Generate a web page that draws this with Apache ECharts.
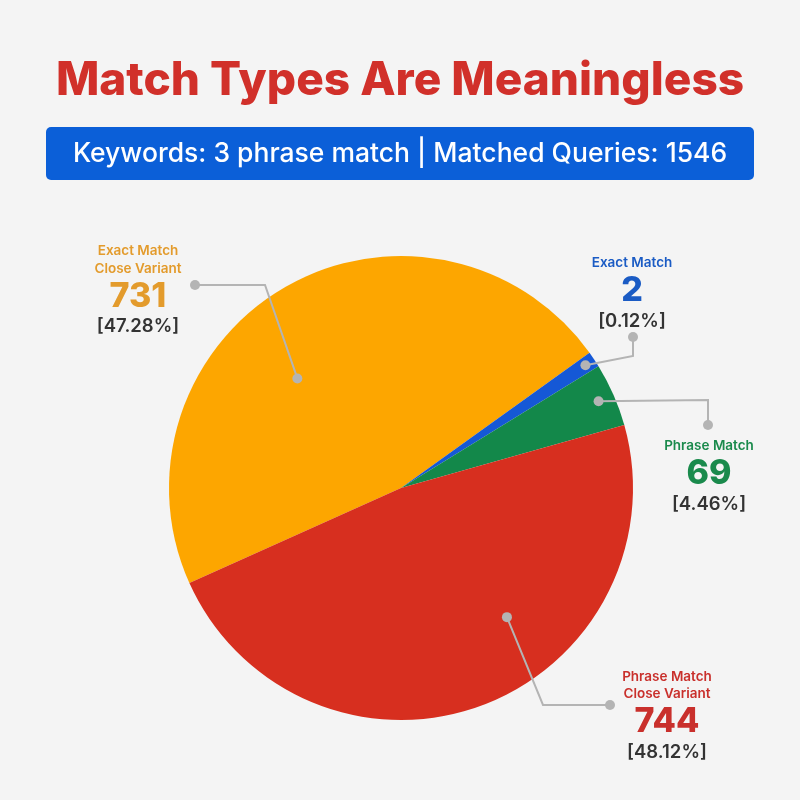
<!DOCTYPE html>
<html><head><meta charset="utf-8">
<script src="https://cdn.jsdelivr.net/npm/echarts@6/dist/echarts.min.js"></script>
<style>html,body{margin:0;padding:0;background:#f4f4f4}#c{width:800px;height:800px}</style>
</head><body><div id="c"></div>
<script>
// ---- data ----
const categories = ['Exact Match\nClose Variant', 'Exact Match', 'Phrase Match', 'Phrase Match\nClose Variant'];
const values = [731, 2, 69, 744];
const percentLabels = ['[47.28%]', '[0.12%]', '[4.46%]', '[48.12%]'];
const titleText = 'Match Types Are Meaningless';
const subtitleText = 'Keywords: 3 phrase match | Matched Queries: 1546';

// ---- style ----
const FONT = 'Inter, Lato, sans-serif';
const sliceColors = ['#fda600', '#1558d6', '#13884a', '#d72f1f'];
const labelColors = ['#e39b2c', '#1a5bc4', '#1a8a4c', '#c9302c'];
const anchorT = [0.42, 0.5, 0.5, 0.387];
const anchorR = [0.65, 0.955, 0.93, 0.72];
const labelPos = [[138, 242.5], [632, 254.5], [709, 437.5], [667, 668]];
const elbows = [[265, 285], [633, 356], [708, 400], [543, 705]];
const ends = [[195, 285], [633, 337], [708, 425], [610, 705]];
const lineColor = '#b4b4b4';

const chart = echarts.init(document.getElementById('c'), null, {renderer: 'canvas'});

function anchorOf(i) {
  const data = chart.getModel().getSeriesByIndex(0).getData();
  const la = data.getItemLayout(i);
  const a = la.startAngle + anchorT[i] * (la.endAngle - la.startAngle);
  const r = la.r * anchorR[i];
  return [la.cx + r * Math.cos(a), la.cy + r * Math.sin(a)];
}

const rich = {
  p: {fontFamily: FONT, fontSize: 18.5, fontWeight: 600, color: '#333333', lineHeight: 22, align: 'center'}
};
labelColors.forEach((c, i) => {
  rich['n' + i] = {fontFamily: FONT, fontSize: 13.5, fontWeight: 600, color: c, lineHeight: 17.5, align: 'center'};
  rich['v' + i] = {fontFamily: FONT, fontSize: 34, fontWeight: 800, color: c, lineHeight: 38, align: 'center'};
});

const baseGraphic = [{
  type: 'group',
  children: [
    {type: 'rect', shape: {x: 46, y: 127, width: 708, height: 53, r: 5}, style: {fill: '#0b5fd8'}},
    {type: 'text', x: 400, y: 154, style: {text: subtitleText, fill: '#ffffff', font: '500 26.5px ' + FONT, align: 'center', verticalAlign: 'middle'}}
  ]
}];

const option = {
  backgroundColor: '#f4f4f4',
  animation: false,
  title: {
    text: titleText,
    left: 'center',
    top: 53,
    textStyle: {fontFamily: FONT, fontSize: 46, fontWeight: 800, color: '#d1302a'}
  },
  graphic: baseGraphic,
  series: [{
    type: 'pie',
    center: [401, 488],
    radius: 232,
    startAngle: 204.2,
    clockwise: true,
    minAngle: 4,
    avoidLabelOverlap: false,
    itemStyle: {borderWidth: 0},
    emphasis: {disabled: true},
    data: categories.map((n, i) => ({name: n, value: values[i], itemStyle: {color: sliceColors[i]}})),
    label: {
      show: true,
      position: 'outside',
      formatter: p => {
        const i = p.dataIndex;
        const names = categories[i].split('\n').map(s => '{n' + i + '|' + s + '}');
        return names.join('\n') + '\n{v' + i + '|' + values[i] + '}\n{p|' + percentLabels[i] + '}';
      },
      rich: rich
    },
    labelLine: {show: false},
    labelLayout: params => {
      const i = params.dataIndex;
      return {x: labelPos[i][0], y: labelPos[i][1], align: 'center', verticalAlign: 'top'};
    }
  }]
};
chart.setOption(option);

// leader lines with dots at both ends, anchored inside each slice
const marks = [];
for (let i = 0; i < values.length; i++) {
  const a = anchorOf(i);
  marks.push({type: 'polyline', z: 100, shape: {points: [a, elbows[i], ends[i]]}, style: {stroke: lineColor, lineWidth: 2, fill: null}});
  [a, ends[i]].forEach(pt => {
    marks.push({type: 'circle', z: 101, shape: {cx: pt[0], cy: pt[1], r: 5}, style: {fill: lineColor}});
  });
}
chart.setOption({graphic: baseGraphic.concat([{type: 'group', z: 100, children: marks}])}, {replaceMerge: ['graphic']});
</script>
</body></html>
